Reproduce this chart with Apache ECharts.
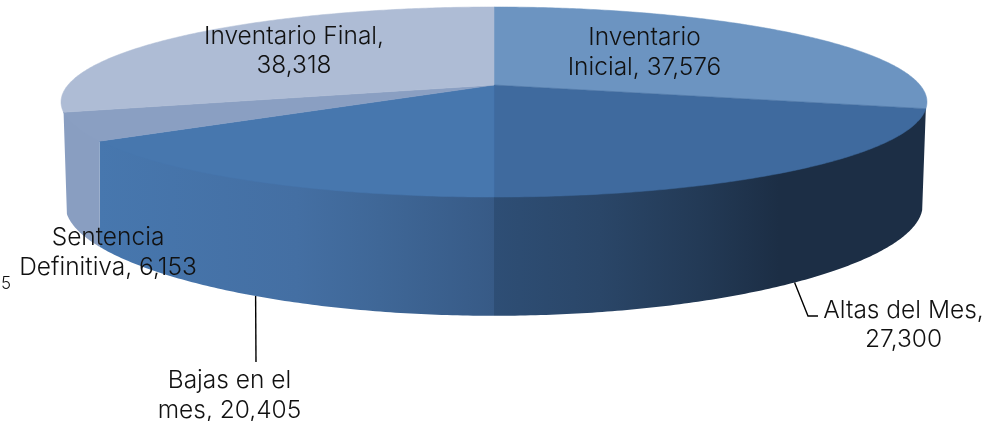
<!DOCTYPE html>
<html><head><meta charset="utf-8">
<style>html,body{margin:0;padding:0;background:#fff}#c{width:986px;height:421px}</style>
<script src="https://cdn.jsdelivr.net/npm/echarts@6/dist/echarts.min.js"></script>
</head><body><div id="c"></div>
<script>
const categories = ['Inventario Inicial', 'Altas del Mes', 'Bajas en el mes', 'Sentencia Definitiva', 'Inventario Final'];
const values = [37576, 27300, 20405, 6153, 38318];
const labelLines = [
  ['Inventario', 'Inicial, 37,576'],
  ['Altas del Mes,', '27,300'],
  ['Bajas en el', 'mes, 20,405'],
  ['Sentencia', 'Definitiva, 6,153'],
  ['Inventario Final,', '38,318']
];
const topColors = ['#6c94c1', '#3f6a9e', '#4777ae', '#8a9fc2', '#aebcd5'];
const wallStops = [
  null,
  [[0, '#2e4e75'], [0.245, '#2a4668'], [0.475, '#233a56'], [0.66, '#1c2e45'], [1, '#1c2e45']],
  [[0, '#4777ae'], [0.5, '#446fa3'], [0.71, '#3f6797'], [1, '#375a86']],
  [[0, '#899ec1'], [1, '#899ec1']],
  null
];
const labelPos = [[644.5, 52.5], [903.5, 325], [229.5, 395.5], [108, 252.5], [294, 51]];
const leaders = [null, [[808, 316], [818, 316]], [[256, 362]], null, null];
const leaderFrac = [0, 0.512, 0.492, 0, 0];
const FONT = '300 24.5px "Inter", sans-serif';

const total = values.reduce((a, b) => a + b, 0);
const starts = [];
values.reduce((acc, v, i) => { starts[i] = acc; return acc + v; }, 0);
const ang = v => v / total * 2 * Math.PI;

const CX = 494;
function topPt(t) {
  const u = Math.sin(t), v = -Math.cos(t), d = 1 - 0.179 * v;
  return [CX + 426 * u / d, 85 + 92 * v / d];
}
function botPt(t) {
  const u = Math.sin(t), v = -Math.cos(t);
  return [CX + 420 * u / (1 - 0.2 * v), 184.7 + 97 * v / (1 - 0.26 * v)];
}
function arc(f, a, b) {
  const n = Math.max(2, Math.ceil(Math.abs(b - a) / 0.01)), p = [];
  for (let i = 0; i <= n; i++) p.push(f(a + (b - a) * i / n));
  return p;
}
const span = i => [ang(starts[i]), ang(starts[i] + values[i])];
const items = categories.map((c, i) => ({ name: c, value: [values[i]] }));

const chart = echarts.init(document.getElementById('c'), null, { renderer: 'canvas' });
chart.setOption({
  animation: false,
  backgroundColor: '#fff',
  series: [
    { // side walls (top edge tucked under the top faces to avoid a seam)
      type: 'custom', coordinateSystem: 'none', z: 1, silent: true, data: items,
      renderItem(p) {
        const i = p.dataIndex, st = wallStops[i];
        if (!st) return { type: 'group', children: [] };
        const [a, b] = span(i);
        const pts = arc(topPt, a, b).map(q => [q[0], q[1] - 2]).concat(arc(botPt, b, a));
        return {
          type: 'polygon', shape: { points: pts },
          style: { fill: new echarts.graphic.LinearGradient(0, 0, 1, 0,
            st.map(s => ({ offset: s[0], color: s[1] }))) }
        };
      }
    },
    { // top faces
      type: 'custom', coordinateSystem: 'none', z: 2, silent: true, data: items,
      renderItem(p) {
        const i = p.dataIndex, [a, b] = span(i);
        return { type: 'polygon', shape: { points: [[CX, 85]].concat(arc(topPt, a, b)) },
          style: { fill: topColors[i], stroke: topColors[i], lineWidth: 0.5 } };
      }
    },
    { // labels and leader lines
      type: 'custom', coordinateSystem: 'none', z: 3, silent: true, data: items,
      renderItem(p) {
        const i = p.dataIndex, [a, b] = span(i), children = [];
        if (leaders[i]) {
          const s = botPt(a + (b - a) * leaderFrac[i]);
          children.push({ type: 'polyline', shape: { points: [s].concat(leaders[i]) },
            style: { stroke: '#000', lineWidth: 1.4, fill: null } });
        }
        children.push({ type: 'text', x: labelPos[i][0], y: labelPos[i][1],
          style: { text: labelLines[i].join('\n'), font: FONT, lineHeight: 29.5,
            fill: '#111', align: 'center', verticalAlign: 'middle' } });
        return { type: 'group', children };
      }
    }
  ],
  graphic: [{ type: 'text', left: 1, top: 275, z: 5, style: { text: '5', font: '300 17px "Inter", sans-serif', fill: '#111' } }]
});
</script></body></html>
